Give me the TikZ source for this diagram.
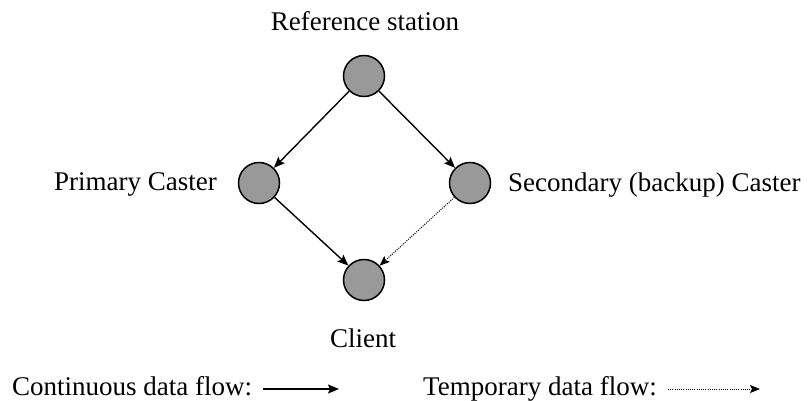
\documentclass[tikz,border=0pt]{standalone}
\usepackage{fontspec}
\setmainfont{Liberation Serif}
\usetikzlibrary{arrows.meta}
\begin{document}
\begin{tikzpicture}[x=1pt,y=1pt,
  station/.style={circle,draw=black,line width=1.5pt,fill={rgb,255:red,153;green,153;blue,153},minimum size=41pt,inner sep=0pt},
  lbl/.style={inner sep=0pt,font=\fontsize{27}{32}\selectfont},
  flow/.style={line width=1.4pt,-{Stealth[length=11pt,width=9pt,inset=2pt]}},
  tempflow/.style={line width=1pt,dash pattern=on 1pt off 1.2pt,-{Stealth[length=10pt,width=8pt,inset=2pt]}}]
\useasboundingbox (0,0) rectangle (810,400);
\node[station] (ref) at (364,324) {};
\node[station] (pri) at (259,217) {};
\node[station] (sec) at (470,217) {};
\node[station] (cli) at (364,120) {};
\node[lbl,anchor=base] (tref) at (365,369) {Reference station};
\node[lbl,anchor=base east] (tpri) at (217,210) {Primary Caster};
\node[lbl,anchor=base west] (tsec) at (508,209) {Secondary (backup) Caster};
\node[lbl,anchor=base] (tcli) at (363,53) {Client};
\draw[flow] (ref) -- (pri);
\draw[flow] (ref) -- (sec);
\draw[flow] (pri) -- (cli);
\draw[tempflow] (sec) -- (cli);
\node[lbl,anchor=base west] (lcont) at (12,5) {Continuous data flow:};
\node[lbl,anchor=base west] (ltemp) at (423,5) {Temporary data flow:};
\coordinate (c1) at (263,11);
\coordinate (c2) at (339,11);
\coordinate (t1) at (668,11);
\coordinate (t2) at (760,11);
\draw[flow] (c1) -- (c2);
\draw[tempflow] (t1) -- (t2);
\end{tikzpicture}
\end{document}
